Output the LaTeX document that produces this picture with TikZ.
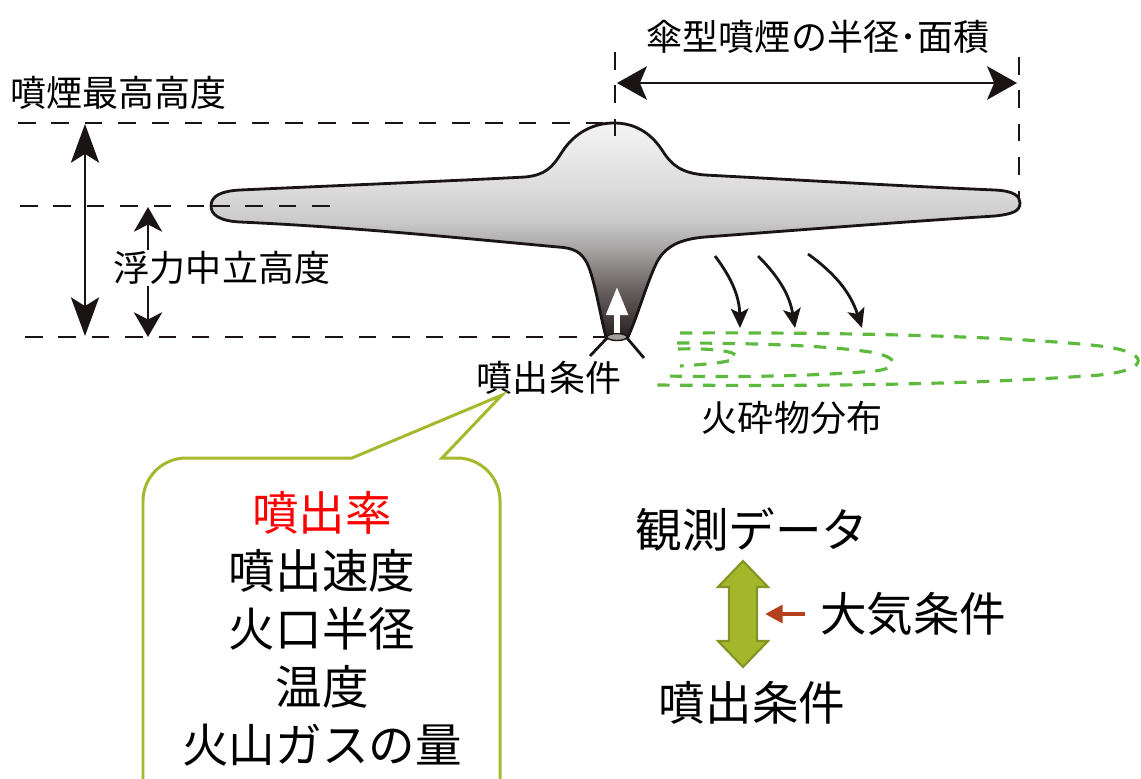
\documentclass[tikz,border=0pt]{standalone}
\usepackage{fontspec}
\setmainfont{Noto Sans CJK JP}
\usetikzlibrary{arrows.meta,calc}
\definecolor{PlLight}{HTML}{F4F4F4}
\definecolor{PlPale}{HTML}{DCDCDC}
\definecolor{PlMid}{HTML}{CACACA}
\definecolor{PlGray}{HTML}{A3A0A0}
\definecolor{PlDeep}{HTML}{686060}
\definecolor{PlDark}{HTML}{2E2626}
\definecolor{Ink}{HTML}{1A1414}
\definecolor{Tephra}{HTML}{5DBA3E}
\definecolor{BubLine}{HTML}{A6B82E}
\definecolor{ArrFill}{HTML}{A4B62A}
\definecolor{ArrEdge}{HTML}{829424}
\definecolor{AirRed}{HTML}{B3411D}
\pgfdeclareverticalshading{plumeshade}{100bp}{color(0bp)=(PlDark); color(26bp)=(PlDark);
  color(36bp)=(PlDeep); color(45bp)=(PlGray); color(52bp)=(PlMid);
  color(60bp)=(PlPale); color(75bp)=(PlLight); color(100bp)=(PlLight)}
\tikzset{
  guide/.style={Ink,line width=1.6pt,dash pattern=on 10pt off 9pt},
  measure/.style={Ink,line width=1.6pt},
  measurebig/.style={measure,{Stealth[length=22pt,width=16pt,inset=5pt]}-{Stealth[length=22pt,width=16pt,inset=5pt]}},
  measuresmall/.style={measure,{Stealth[length=14pt,width=16pt,inset=4pt]}-{Stealth[length=14pt,width=16pt,inset=4pt]}},
  measurewide/.style={measure,{Stealth[length=17pt,width=19pt,inset=4pt]}-{Stealth[length=17pt,width=19pt,inset=4pt]}},
  plume/.style={draw=Ink,line width=1.6pt,shading=plumeshade},
  jet/.style={white,line width=3pt,-{Triangle[length=16pt,width=12pt]}},
  fall/.style={Ink,line width=1.6pt,-{Stealth[length=11pt,width=10pt,inset=2.5pt]}},
  deposit/.style={Tephra,line width=1.8pt,dash pattern=on 7pt off 6pt},
  bubble/.style={draw=BubLine,line width=1.7pt,fill=white},
  fatarrow/.style={draw=ArrEdge,fill=ArrFill,line width=1.2pt,line join=miter},
  airarrow/.style={AirRed,line width=2.8pt,-{Triangle[length=10pt,width=10pt]}},
  smalljp/.style={font=\fontsize{20.5}{24}\selectfont,inner sep=1pt},
  bigjp/.style={font=\fontsize{26.5}{33}\selectfont,inner sep=1pt,align=center},
}

\begin{document}
\begin{tikzpicture}[x=0.02cm,y=-0.02cm]
  \useasboundingbox (0,0) rectangle (1141,778);
  \clip (0,0) rectangle (1141,778);

  % height levels
  \coordinate (topL) at (18,123);
  \coordinate (topR) at (612,123);
  \coordinate (botL) at (25,337);
  \coordinate (botR) at (606,337);
  \draw[guide] (topL) -- (topR);
  \draw[guide] (botL) -- (botR);
  \draw[guide] (20,206) -- (212,206);

  % the plume: umbrella cloud over the eruption column
  \path[plume] (211,206) .. controls (211,196) and (221,191) .. (240,190)
    .. controls (350,185) and (450,181) .. (525,177)
    .. controls (545,175) and (552,168) .. (562,152)
    .. controls (575,132) and (594,123) .. (614,123)
    .. controls (634,123) and (650,132) .. (662,150)
    .. controls (672,166) and (682,173) .. (705,175)
    .. controls (800,180) and (900,186) .. (995,190)
    .. controls (1014,191) and (1020,196) .. (1020,203)
    .. controls (1020,211) and (1013,214) .. (995,216)
    .. controls (900,222) and (800,230) .. (705,237)
    .. controls (682,239) and (666,245) .. (657,262)
    .. controls (647,282) and (638,315) .. (628,337)
    -- (606,337)
    .. controls (600,315) and (595,280) .. (587,263)
    .. controls (581,252) and (574,248) .. (558,247)
    .. controls (450,237) and (350,227) .. (240,222)
    .. controls (220,221) and (211,215) .. (211,206) -- cycle;
  \draw[guide] (212,206) -- (337,206);
  \draw[guide] (615,52) -- (615,140);
  \draw[guide] (1019,57) -- (1019,197);

  % vent
  \draw[Ink,line width=0.8pt,fill=PlGray] (617,337) ellipse [x radius=10, y radius=3.5];
  \draw[Ink,line width=1.6pt] (607,338) -- (590,356) (627,338) -- (644,358);
  \coordinate (jet0) at (617,333);
  \coordinate (jet1) at (617,287);
  \draw[jet] (jet0) -- (jet1);

  % dimension arrows
  \coordinate (hTop) at (85,124);
  \coordinate (hBot) at (85,336);
  \draw[measurebig] (hTop) -- (hBot);
  \coordinate (nTop) at (148,207);
  \coordinate (nBot) at (148,337);
  \draw[measuresmall] (nTop) -- (nBot);
  \coordinate (rL) at (617,83);
  \coordinate (rR) at (1017,83);
  \draw[measurewide] (rL) -- (rR);

  \node[smalljp,anchor=west] (hmax) at (8,93) {噴煙最高高度};
  \node[smalljp,fill=white] (hnb) at (222,268) {浮力中立高度};
  \node[smalljp] (radius) at (818,37) {傘型噴煙の半径･面積};

  % falling tephra
  \draw[fall] (715,256) to[bend left=18] (740,328);
  \draw[fall] (758,256) to[bend left=18] (795,328);
  \draw[fall] (808,254) to[bend left=18] (862,328);

  % deposit outlines
  \draw[deposit] (680,333) .. controls (880,332) and (1030,338) .. (1100,346)
    .. controls (1152,352) and (1150,370) .. (1100,375)
    .. controls (950,386) and (800,386) .. (655,385);
  \draw[deposit] (677,343) .. controls (760,343) and (830,346) .. (870,352)
    .. controls (900,357) and (900,368) .. (875,371)
    .. controls (800,377) and (730,377) .. (665,376);
  \draw[deposit] (678,349) .. controls (710,348) and (738,351) .. (736,357)
    .. controls (734,362) and (710,364) .. (680,366);

  \node[smalljp] (ventlbl) at (549,378) {噴出条件};
  \node[smalljp] (tephra) at (792,418) {火砕物分布};

  % callout with the source parameters
  \path[bubble] (143,800) -- (143,501) arc[start angle=180,end angle=270,radius=43]
    -- (352,458) -- (502,395) -- (442,458) -- (457,458)
    arc[start angle=270,end angle=360,radius=43] -- (500,800);
  \node[bigjp] (params) at (322,629)
    {{\color{red}噴出率}\\噴出速度\\火口半径\\温度\\火山ガスの量};

  % observation vs. source
  \node[bigjp] (obs) at (752,530) {観測データ};
  \node[bigjp] (src) at (752,703) {噴出条件};
  \node[bigjp,anchor=west] (air) at (818,614) {大気条件};
  \begin{scope}[shift={(743,614)}]
    \draw[fatarrow] (0,-53) -- (25,-27) -- (14,-27) -- (14,27) -- (25,27) -- (0,53)
      -- (-25,27) -- (-14,27) -- (-14,-27) -- (-25,-27) -- cycle;
  \end{scope}
  \coordinate (airtip) at (765,614);
  \draw[airarrow] ($(air.west)+(-13,0)$) -- (airtip);
\end{tikzpicture}
\end{document}
